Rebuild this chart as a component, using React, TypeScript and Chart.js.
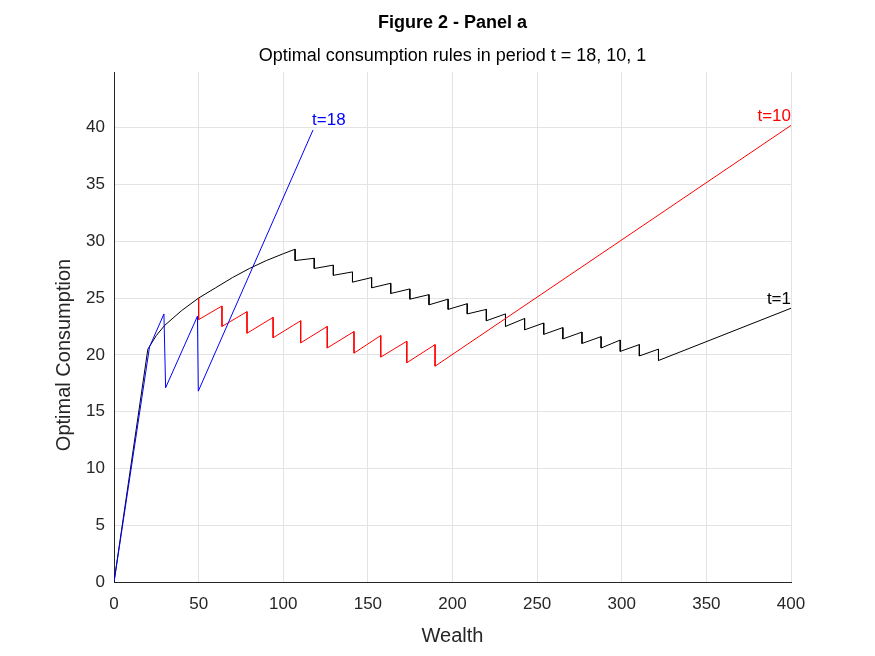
import { useEffect, useRef } from "react";
import { Chart, registerables } from "chart.js";

Chart.register(...registerables);

// t=1 (black)
const t1X = [0, 20, 25, 30, 40, 50, 60, 70, 80, 90, 100, 107];
const t1Y = [0, 20.5, 21.7, 22.6, 23.9, 25.0, 25.9, 26.8, 27.6, 28.3, 28.9, 29.3];
const t1DropX = [107, 118.3, 129.6, 140.9, 152.2, 163.5, 174.8, 186.1, 197.4, 208.7, 220, 231.3, 242.6, 253.9, 265.2, 276.5, 287.8, 299.1, 310.4, 321.7];
const t1Tops = [29.3, 28.5, 27.9, 27.3, 26.8, 26.3, 25.8, 25.3, 24.9, 24.5, 24.0, 23.6, 23.2, 22.8, 22.4, 22.0, 21.6, 21.3, 20.9, 20.5];
const t1Bottoms = [28.3, 27.6, 27.0, 26.4, 25.9, 25.4, 24.9, 24.4, 24.0, 23.6, 23.0, 22.5, 22.2, 21.8, 21.4, 21.0, 20.6, 20.3, 19.9, 19.5];
const t1End = { x: 400, y: 24.1 };

// t=10 (red)
const t10Start = { x: 50, y: 25.0 };
const t10DropX = [50, 63.8, 78.6, 94, 110.3, 126, 141.8, 157.6, 173, 189.7];
const t10Tops = [25.0, 24.3, 23.8, 23.3, 23.0, 22.5, 22.05, 21.7, 21.2, 20.9];
const t10Bottoms = [23.1, 22.5, 21.9, 21.5, 21.05, 20.6, 20.15, 19.8, 19.3, 19.0];
const t10End = { x: 400, y: 40.2 };

// t=18 (blue)
const t18X = [0, 21, 29.5, 30.5, 49.3, 49.8, 117.6];
const t18Y = [0, 20.7, 23.6, 17.1, 23.4, 16.8, 39.8];

const xTicks = [0, 50, 100, 150, 200, 250, 300, 350, 400];
const yTicks = [0, 5, 10, 15, 20, 25, 30, 35, 40];

const FONT = "'Liberation Sans', Arial, sans-serif";

function sawtooth(dropX: number[], tops: number[], bottoms: number[]) {
  const pts: { x: number; y: number }[] = [];
  dropX.forEach((x, i) => {
    pts.push({ x, y: tops[i] });
    pts.push({ x, y: bottoms[i] });
  });
  return pts;
}

const labelPlugin = {
  id: "labels",
  afterDraw(chart: any) {
    const { ctx, scales, chartArea } = chart;
    const xs = scales.x;
    const ys = scales.y;
    const cx = (chartArea.left + chartArea.right) / 2;
    ctx.save();
    ctx.fillStyle = "#000";
    ctx.textAlign = "center";
    ctx.font = `bold 18px ${FONT}`;
    ctx.fillText("Figure 2 - Panel a", cx, 28);
    ctx.font = `18px ${FONT}`;
    ctx.fillText("Optimal consumption rules in period t = 18, 10, 1", cx, 61);
    ctx.fillStyle = "#262626";
    ctx.font = `20px ${FONT}`;
    ctx.fillText("Wealth", cx, 642);
    ctx.save();
    ctx.translate(70, (chartArea.top + chartArea.bottom) / 2 + 28);
    ctx.rotate(-Math.PI / 2);
    ctx.fillText("Optimal Consumption", 0, 0);
    ctx.restore();
    ctx.font = `17px ${FONT}`;
    ctx.textAlign = "left";
    ctx.fillStyle = "#0000ff";
    ctx.fillText("t=18", xs.getPixelForValue(117), ys.getPixelForValue(40.2));
    ctx.textAlign = "right";
    ctx.fillStyle = "#ff0000";
    ctx.fillText("t=10", xs.getPixelForValue(400), ys.getPixelForValue(40.6));
    ctx.fillStyle = "#000";
    ctx.fillText("t=1", xs.getPixelForValue(400), ys.getPixelForValue(24.5));
    ctx.restore();
  },
};

export default function App() {
  const ref = useRef<HTMLCanvasElement>(null);

  useEffect(() => {
    if (!ref.current) return;
    const black = [
      ...t1X.map((x, i) => ({ x, y: t1Y[i] })),
      ...sawtooth(t1DropX, t1Tops, t1Bottoms),
      t1End,
    ];
    const red = [t10Start, ...sawtooth(t10DropX, t10Tops, t10Bottoms), t10End];
    const blue = t18X.map((x, i) => ({ x, y: t18Y[i] }));
    const ds = (data: any, color: string) => ({
      data,
      borderColor: color,
      borderWidth: 1,
      showLine: true,
      pointRadius: 0,
      tension: 0,
    });
    const chart = new Chart(ref.current, {
      type: "scatter",
      data: { datasets: [ds(blue, "#0000ff"), ds(red, "#ff0000"), ds(black, "#000000")] },
      plugins: [labelPlugin],
      options: {
        animation: false,
        responsive: false,
        layout: { padding: { top: 72, right: 84, left: 0, bottom: 0 } },
        plugins: { legend: { display: false }, tooltip: { enabled: false } },
        scales: {
          x: {
            type: "linear",
            min: 0,
            max: 400,
            afterBuildTicks: (s: any) => {
              s.ticks = xTicks.map((v) => ({ value: v }));
            },
            afterFit: (s: any) => {
              s.height = 74;
            },
            grid: { color: "#e3e3e3", tickLength: 0 },
            border: { color: "#262626" },
            ticks: { color: "#262626", font: { size: 17, family: FONT }, padding: 12 },
          },
          y: {
            min: 0,
            max: 44.9,
            afterBuildTicks: (s: any) => {
              s.ticks = yTicks.map((v) => ({ value: v }));
            },
            afterFit: (s: any) => {
              s.width = 114;
            },
            grid: { color: "#e3e3e3", tickLength: 0 },
            border: { color: "#262626" },
            ticks: { color: "#262626", font: { size: 17, family: FONT }, padding: 9 },
          },
        },
      },
    });
    return () => chart.destroy();
  }, []);

  return (
    <div style={{ position: "fixed", left: 0, top: 0, width: 875, height: 656, background: "#fff" }}>
      <canvas ref={ref} width={875} height={656} />
    </div>
  );
}
